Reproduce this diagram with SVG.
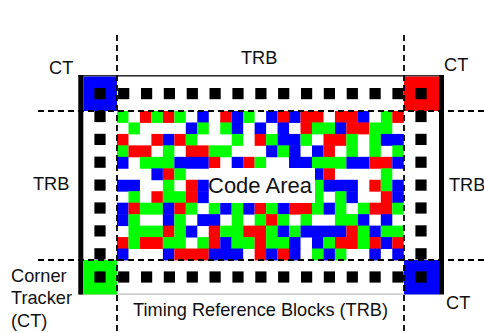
<svg xmlns="http://www.w3.org/2000/svg" width="484" height="333" viewBox="0 0 484 333">
<style>
text{font-family:"Liberation Sans",Arial,sans-serif;font-size:18.2px;fill:#111}
.r{fill:#f00}.g{fill:#0f0}.b{fill:#00f}.k{fill:#000}
#code-cells rect{height:1.04px}
.d{fill:none;stroke:#000;stroke-width:1.8;stroke-dasharray:6 4}
</style>
<defs><rect id="s" x="-5.6" y="-5.6" width="11.2" height="11.2" fill="#000"/></defs>
<rect width="484" height="333" fill="#fff"/>
<g id="code-cells" transform="translate(117 111) scale(11.47 11.46)">
<g transform="translate(0 0)"><rect class="g" x="0" width="1" height="1"/><rect class="r" x="2" width="1" height="1"/><rect class="g" x="3" width="1" height="1"/><rect class="r" x="4" width="1" height="1"/><rect class="g" x="5" width="1" height="1"/><rect class="b" x="7" width="1" height="1"/><rect class="r" x="9" width="1" height="1"/><rect class="b" x="10" width="1" height="1"/><rect class="g" x="11" width="1" height="1"/><rect class="b" x="13" width="1" height="1"/><rect class="r" x="14" width="1" height="1"/><rect class="b" x="15" width="1" height="1"/><rect class="r" x="16" width="2" height="1"/><rect class="r" x="19" width="2" height="1"/><rect class="b" x="21" width="1" height="1"/><rect class="g" x="23" width="1" height="1"/><rect class="r" x="24" width="1" height="1"/></g>
<g transform="translate(0 1)"><rect class="g" x="1" width="1" height="1"/><rect class="b" x="6" width="1" height="1"/><rect class="g" x="7" width="1" height="1"/><rect class="g" x="9" width="1" height="1"/><rect class="b" x="10" width="1" height="1"/><rect class="b" x="12" width="1" height="1"/><rect class="b" x="14" width="1" height="1"/><rect class="r" x="16" width="1" height="1"/><rect class="g" x="17" width="2" height="1"/><rect class="b" x="19" width="1" height="1"/><rect class="r" x="20" width="2" height="1"/><rect class="g" x="22" width="2" height="1"/></g>
<g transform="translate(0 2)"><rect class="r" x="0" width="1" height="1"/><rect class="r" x="3" width="1" height="1"/><rect class="b" x="4" width="1" height="1"/><rect class="r" x="5" width="1" height="1"/><rect class="g" x="6" width="1" height="1"/><rect class="g" x="10" width="1" height="1"/><rect class="r" x="12" width="1" height="1"/><rect class="g" x="13" width="1" height="1"/><rect class="b" x="14" width="2" height="1"/><rect class="g" x="16" width="1" height="1"/><rect class="r" x="18" width="2" height="1"/><rect class="g" x="20" width="1" height="1"/><rect class="g" x="22" width="1" height="1"/><rect class="b" x="23" width="2" height="1"/></g>
<g transform="translate(0 3)"><rect class="g" x="0" width="1" height="1"/><rect class="r" x="1" width="2" height="1"/><rect class="g" x="4" width="1" height="1"/><rect class="r" x="6" width="2" height="1"/><rect class="g" x="8" width="2" height="1"/><rect class="b" x="13" width="1" height="1"/><rect class="g" x="14" width="1" height="1"/><rect class="b" x="15" width="1" height="1"/><rect class="b" x="17" width="1" height="1"/><rect class="r" x="18" width="1" height="1"/><rect class="g" x="20" width="1" height="1"/><rect class="g" x="22" width="1" height="1"/><rect class="g" x="24" width="1" height="1"/></g>
<g transform="translate(0 4)"><rect class="b" x="0" width="1" height="1"/><rect class="g" x="2" width="3" height="1"/><rect class="b" x="5" width="3" height="1"/><rect class="r" x="8" width="1" height="1"/><rect class="b" x="10" width="1" height="1"/><rect class="r" x="11" width="1" height="1"/><rect class="g" x="12" width="1" height="1"/><rect class="b" x="15" width="2" height="1"/><rect class="g" x="17" width="3" height="1"/><rect class="b" x="20" width="2" height="1"/><rect class="r" x="22" width="2" height="1"/><rect class="b" x="24" width="1" height="1"/></g>
<g transform="translate(0 5)"><rect class="b" x="3" width="1" height="1"/><rect class="r" x="4" width="1" height="1"/><rect class="g" x="5" width="1" height="1"/><rect class="b" x="17" width="1" height="1"/><rect class="r" x="18" width="1" height="1"/><rect class="g" x="23" width="1" height="1"/></g>
<g transform="translate(0 6)"><rect class="b" x="0" width="2" height="1"/><rect class="g" x="4" width="1" height="1"/><rect class="r" x="6" width="1" height="1"/><rect class="b" x="7" width="1" height="1"/><rect class="g" x="17" width="1" height="1"/><rect class="b" x="18" width="3" height="1"/><rect class="r" x="22" width="1" height="1"/><rect class="g" x="23" width="1" height="1"/><rect class="b" x="24" width="1" height="1"/></g>
<g transform="translate(0 7)"><rect class="g" x="1" width="1" height="1"/><rect class="r" x="3" width="1" height="1"/><rect class="g" x="4" width="2" height="1"/><rect class="r" x="6" width="1" height="1"/><rect class="b" x="7" width="1" height="1"/><rect class="g" x="17" width="1" height="1"/><rect class="g" x="19" width="1" height="1"/><rect class="b" x="20" width="1" height="1"/><rect class="r" x="23" width="1" height="1"/><rect class="b" x="24" width="1" height="1"/></g>
<g transform="translate(0 8)"><rect class="b" x="0" width="1" height="1"/><rect class="r" x="1" width="1" height="1"/><rect class="g" x="2" width="2" height="1"/><rect class="b" x="4" width="1" height="1"/><rect class="r" x="5" width="1" height="1"/><rect class="g" x="6" width="1" height="1"/><rect class="g" x="8" width="1" height="1"/><rect class="b" x="9" width="1" height="1"/><rect class="g" x="10" width="1" height="1"/><rect class="b" x="11" width="1" height="1"/><rect class="r" x="12" width="1" height="1"/><rect class="g" x="13" width="1" height="1"/><rect class="b" x="14" width="1" height="1"/><rect class="r" x="15" width="2" height="1"/><rect class="g" x="17" width="1" height="1"/><rect class="b" x="18" width="1" height="1"/><rect class="g" x="19" width="1" height="1"/><rect class="g" x="21" width="1" height="1"/><rect class="r" x="22" width="2" height="1"/><rect class="g" x="24" width="1" height="1"/></g>
<g transform="translate(0 9)"><rect class="b" x="0" width="1" height="1"/><rect class="g" x="1" width="1" height="1"/><rect class="b" x="4" width="1" height="1"/><rect class="g" x="5" width="1" height="1"/><rect class="b" x="7" width="2" height="1"/><rect class="g" x="10" width="1" height="1"/><rect class="g" x="12" width="1" height="1"/><rect class="r" x="13" width="1" height="1"/><rect class="g" x="14" width="1" height="1"/><rect class="g" x="16" width="1" height="1"/><rect class="g" x="19" width="2" height="1"/><rect class="b" x="21" width="1" height="1"/><rect class="b" x="23" width="1" height="1"/></g>
<g transform="translate(0 10)"><rect class="g" x="1" width="3" height="1"/><rect class="r" x="4" width="1" height="1"/><rect class="g" x="5" width="1" height="1"/><rect class="b" x="6" width="1" height="1"/><rect class="r" x="8" width="1" height="1"/><rect class="g" x="9" width="2" height="1"/><rect class="r" x="11" width="2" height="1"/><rect class="g" x="13" width="1" height="1"/><rect class="b" x="14" width="1" height="1"/><rect class="g" x="15" width="1" height="1"/><rect class="b" x="16" width="4" height="1"/><rect class="r" x="20" width="1" height="1"/><rect class="g" x="21" width="1" height="1"/><rect class="b" x="22" width="1" height="1"/><rect class="g" x="23" width="2" height="1"/></g>
<g transform="translate(0 11)"><rect class="r" x="0" width="1" height="1"/><rect class="g" x="1" width="1" height="1"/><rect class="r" x="2" width="2" height="1"/><rect class="g" x="4" width="2" height="1"/><rect class="g" x="7" width="1" height="1"/><rect class="r" x="8" width="1" height="1"/><rect class="b" x="9" width="1" height="1"/><rect class="g" x="10" width="2" height="1"/><rect class="r" x="12" width="1" height="1"/><rect class="g" x="13" width="2" height="1"/><rect class="b" x="15" width="1" height="1"/><rect class="b" x="17" width="1" height="1"/><rect class="g" x="18" width="1" height="1"/><rect class="r" x="19" width="2" height="1"/><rect class="g" x="21" width="1" height="1"/><rect class="r" x="22" width="1" height="1"/><rect class="b" x="23" width="1" height="1"/><rect class="r" x="24" width="1" height="1"/></g>
<g transform="translate(0 12)"><rect class="b" x="0" width="1" height="1"/><rect class="b" x="4" width="1" height="1"/><rect class="r" x="5" width="3" height="1"/><rect class="b" x="8" width="3" height="1"/><rect class="r" x="12" width="1" height="1"/><rect class="b" x="13" width="1" height="1"/><rect class="r" x="14" width="1" height="1"/><rect class="b" x="15" width="1" height="1"/><rect class="g" x="17" width="1" height="1"/><rect class="b" x="18" width="1" height="1"/><rect class="g" x="19" width="1" height="1"/><rect class="b" x="22" width="1" height="1"/><rect class="b" x="24" width="1" height="1"/></g>
</g>
<g id="frame">
<rect x="78.3" y="75" width="365.7" height="1.6" fill="#333"/>
<rect x="78.3" y="293.6" width="361" height="1" fill="#aaa"/>
<rect class="k" x="78.3" y="75" width="5" height="219.5"/>
<rect class="k" x="439" y="75" width="5" height="219.5"/>
</g>
<g id="corner-tl"><rect class="b" x="83.3" y="76.6" width="33.7" height="34.4"/><use href="#s" x="100" y="93.6"/></g>
<g id="corner-tr"><rect class="r" x="404" y="76.6" width="35" height="34.4"/><use href="#s" x="421" y="93.6"/></g>
<g id="corner-bl"><rect class="g" x="83.3" y="260" width="33.7" height="34.4"/><use href="#s" x="100" y="277"/></g>
<g id="corner-br"><rect class="b" x="404" y="260" width="35" height="34.4"/><use href="#s" x="421" y="277"/></g>
<g id="timing-top"><use href="#s" x="123.7" y="93.6"/><use href="#s" x="146.6" y="93.6"/><use href="#s" x="169.4" y="93.6"/><use href="#s" x="192.3" y="93.6"/><use href="#s" x="215.1" y="93.6"/><use href="#s" x="238" y="93.6"/><use href="#s" x="260.9" y="93.6"/><use href="#s" x="283.7" y="93.6"/><use href="#s" x="306.6" y="93.6"/><use href="#s" x="329.4" y="93.6"/><use href="#s" x="352.3" y="93.6"/><use href="#s" x="375.1" y="93.6"/><use href="#s" x="398" y="93.6"/></g>
<g id="timing-bottom"><use href="#s" x="123.7" y="277"/><use href="#s" x="146.6" y="277"/><use href="#s" x="169.4" y="277"/><use href="#s" x="192.3" y="277"/><use href="#s" x="215.1" y="277"/><use href="#s" x="238" y="277"/><use href="#s" x="260.9" y="277"/><use href="#s" x="283.7" y="277"/><use href="#s" x="306.6" y="277"/><use href="#s" x="329.4" y="277"/><use href="#s" x="352.3" y="277"/><use href="#s" x="375.1" y="277"/><use href="#s" x="398" y="277"/></g>
<g id="timing-left"><use href="#s" x="100" y="116.5"/><use href="#s" x="100" y="139.4"/><use href="#s" x="100" y="162.2"/><use href="#s" x="100" y="185.1"/><use href="#s" x="100" y="208"/><use href="#s" x="100" y="230.9"/><use href="#s" x="100" y="253.8"/></g>
<g id="timing-right"><use href="#s" x="421" y="116.5"/><use href="#s" x="421" y="139.4"/><use href="#s" x="421" y="162.2"/><use href="#s" x="421" y="185.1"/><use href="#s" x="421" y="208"/><use href="#s" x="421" y="230.9"/><use href="#s" x="421" y="253.8"/></g>
<g id="code-area"><rect x="209" y="168" width="106" height="35" fill="#fff"/><text x="208" y="193" style="font-size:22px">Code Area</text></g>
<g id="connectors">
<path class="d" d="M117 35V333"/>
<path class="d" d="M404 35V333"/>
<path class="d" d="M38 111H484"/>
<path class="d" d="M38 260H484"/>
</g>
<g id="labels">
<text x="241" y="64">TRB</text>
<text x="49" y="74">CT</text>
<text x="444" y="71">CT</text>
<text x="33" y="190">TRB</text>
<text x="449" y="191">TRB</text>
<text x="11" y="282">Corner</text>
<text x="11" y="304">Tracker</text>
<text x="11" y="327">(CT)</text>
<text x="446" y="309">CT</text>
<text x="133" y="316">Timing Reference Blocks (TRB)</text>
</g>
</svg>
